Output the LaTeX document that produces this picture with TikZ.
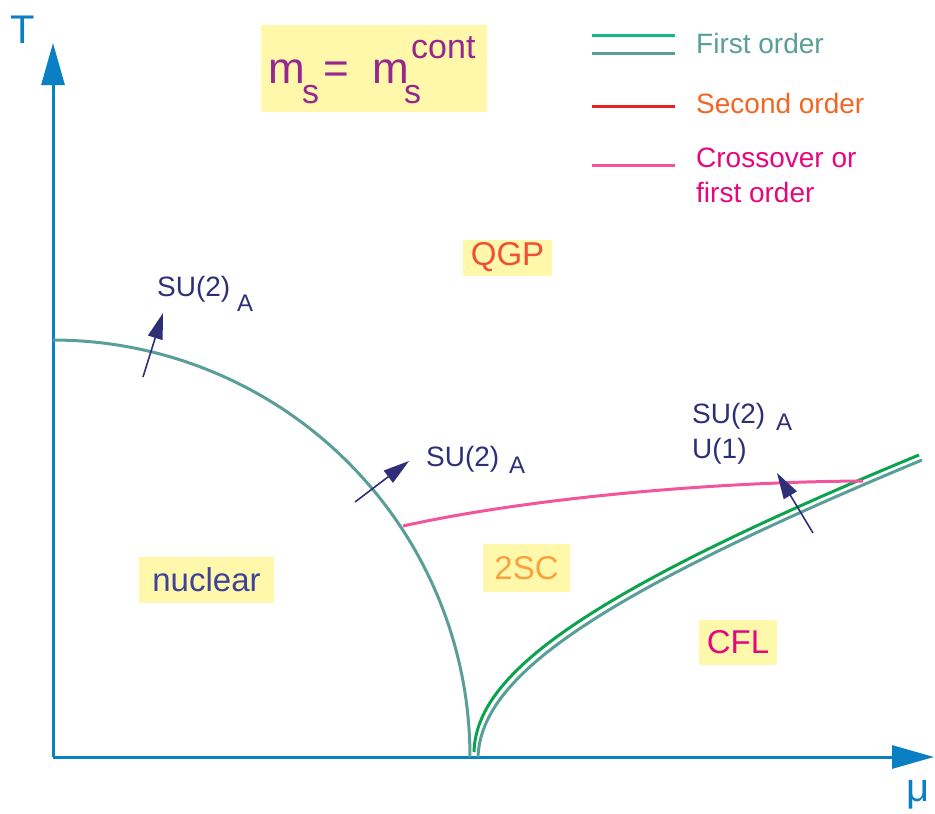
\documentclass[tikz,border=0pt]{standalone}
\usepackage{fontspec}
\setmainfont{Liberation Sans}
\usetikzlibrary{arrows.meta}
\definecolor{axisblue}{HTML}{0B7FC3}
\definecolor{tealc}{HTML}{5A9E98}
\definecolor{greenc}{HTML}{0DA34E}
\definecolor{legendgreen}{HTML}{14B88A}
\definecolor{pinkc}{HTML}{F2559E}
\definecolor{redc}{HTML}{E42228}
\definecolor{navyc}{HTML}{2E2F77}
\definecolor{yellowbg}{HTML}{FFF8AA}
\definecolor{purplec}{HTML}{96278F}
\definecolor{nucleartext}{HTML}{3F4397}
\definecolor{qgpc}{HTML}{F04E37}
\definecolor{twoscc}{HTML}{F9A33E}
\definecolor{cflc}{HTML}{E5077E}
\definecolor{secondtext}{HTML}{F26522}
\begin{document}
\begin{tikzpicture}[x=1pt,y=-1pt,
  axisline/.style={draw=axisblue,line width=3pt,-{Triangle[length=42pt,width=23pt]}},
  phaseline/.style={line width=3pt},
  symarrow/.style={draw=navyc,line width=1.6pt,-{Triangle[length=26pt,width=15pt]}},
  regionbox/.style={fill=yellowbg,inner sep=0pt,font=\fontsize{33}{38}\selectfont},
  symtext/.style={text=navyc,inner sep=0pt,font=\fontsize{28}{32}\selectfont},
  subtext/.style={text=navyc,inner sep=0pt,font=\fontsize{24}{28}\selectfont},
  legendtext/.style={inner sep=0pt,anchor=base west,font=\fontsize{28}{32}\selectfont},
  mstext/.style={text=purplec,inner sep=0pt,anchor=base west}]
\useasboundingbox (0,0) rectangle (935,814);

% axes
\coordinate (origin) at (53,757);
\coordinate (ttip) at (53,43);
\coordinate (mutip) at (934,757);
\draw[axisline] (origin) -- (ttip);
\draw[axisline] (origin) -- (mutip);
\node[text=axisblue,inner sep=0pt,font=\fontsize{40}{44}\selectfont] (Tlab) at (23,30) {T};
\node[text=axisblue,inner sep=0pt,font=\fontsize{40}{44}\selectfont] (mulab) at (918,795) {μ};

% ms box
\node[fill=yellowbg,minimum width=226pt,minimum height=87pt,inner sep=0pt] (msbox) at (374,68.5) {};
\node[mstext,font=\fontsize{44}{48}\selectfont] (m1) at (268,83) {m};
\node[mstext,font=\fontsize{34}{38}\selectfont] (s1) at (302,103) {s};
\node[mstext,font=\fontsize{44}{48}\selectfont] (eq) at (323,83) {=};
\node[mstext,font=\fontsize{44}{48}\selectfont] (m2) at (372,83) {m};
\node[mstext,font=\fontsize{34}{38}\selectfont] (s2) at (404,103) {s};
\node[mstext,font=\fontsize{34}{38}\selectfont] (cont) at (411,58) {cont};

% legend
\coordinate (l1a) at (592,35); \coordinate (l1b) at (675,35);
\coordinate (l2a) at (592,53); \coordinate (l2b) at (675,53);
\coordinate (l3a) at (592,106); \coordinate (l3b) at (675,106);
\coordinate (l4a) at (592,165); \coordinate (l4b) at (675,165);
\draw[legendgreen,phaseline] (l1a) -- (l1b);
\draw[tealc,phaseline] (l2a) -- (l2b);
\draw[redc,phaseline] (l3a) -- (l3b);
\draw[pinkc,phaseline] (l4a) -- (l4b);
\node[legendtext,text=tealc] (leg1) at (696,53) {First order};
\node[legendtext,text=secondtext] (leg2) at (696,113) {Second order};
\node[legendtext,text=cflc] (leg3) at (696,167) {Crossover or};
\node[legendtext,text=cflc] (leg4) at (696,202) {first order};

% phase boundaries
\draw[tealc,phaseline] plot[domain=0:90,samples=80] ({53+417*sin(\x)},{757-417*cos(\x)});
\coordinate (cflbot) at (478,757);
\coordinate (cfltop) at (922,460);
\draw[tealc,phaseline] (cflbot) .. controls (481,680) and (583,601) .. (cfltop);
\coordinate (grbot) at (474,752);
\coordinate (grtop) at (919,455);
\draw[greenc,phaseline] (grbot) .. controls (476,676) and (578,596) .. (grtop);
\coordinate (pinkstart) at (403,526);
\coordinate (pinkend) at (863,481);
\draw[pinkc,phaseline] (pinkstart) .. controls (520,500) and (700,482) .. (pinkend);

% region labels
\node[regionbox,text=nucleartext,minimum width=135pt,minimum height=46pt] (nuclear) at (206.5,580) {nuclear};
\node[regionbox,text=qgpc,minimum width=89pt,minimum height=36pt] (qgp) at (507.5,257.5) {QGP};
\node[regionbox,text=twoscc,minimum width=87pt,minimum height=48pt] (twosc) at (526.5,568) {2SC};
\node[regionbox,text=cflc,minimum width=78pt,minimum height=45pt] (cfl) at (738,642.5) {CFL};

% symmetry arrows
\coordinate (a1s) at (143,377); \coordinate (a1e) at (163,313);
\coordinate (a2s) at (355,502); \coordinate (a2e) at (409,461);
\coordinate (a3s) at (813,533); \coordinate (a3e) at (777,473);
\draw[symarrow] (a1s) -- (a1e);
\draw[symarrow] (a2s) -- (a2e);
\draw[symarrow] (a3s) -- (a3e);

% symmetry labels
\node[symtext,anchor=base west] (su1) at (157,296) {SU(2)};
\node[subtext,anchor=base west] (su1a) at (237,311) {A};
\node[symtext,anchor=base west] (su2) at (426,466) {SU(2)};
\node[subtext,anchor=base west] (su2a) at (509,473) {A};
\node[symtext,anchor=base west] (su3) at (692,423) {SU(2)};
\node[subtext,anchor=base west] (su3a) at (776,430) {A};
\node[symtext,anchor=base west] (u1) at (692,458) {U(1)};
\end{tikzpicture}
\end{document}
